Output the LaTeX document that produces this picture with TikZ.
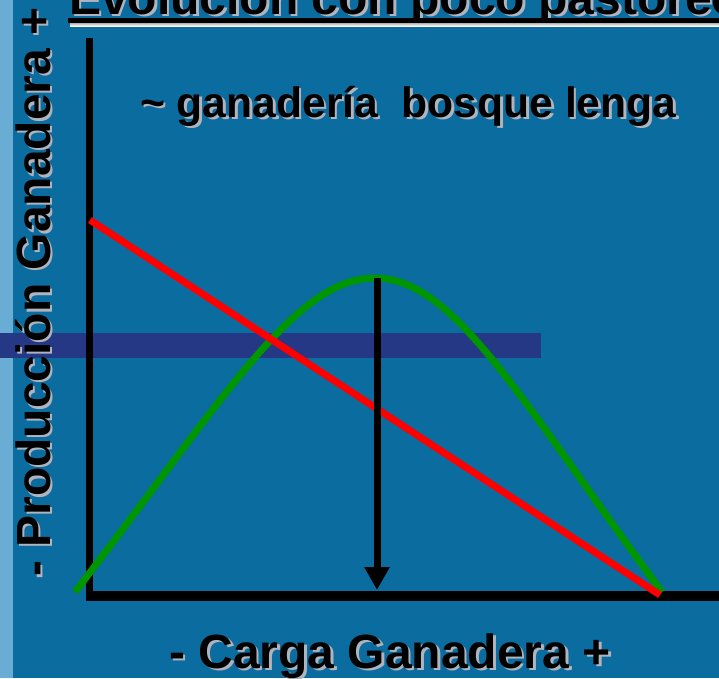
\documentclass[tikz,border=0pt]{standalone}
\usepackage{fontspec}
\setmainfont{Liberation Sans}
\usetikzlibrary{arrows.meta}
\definecolor{bgblue}{RGB}{11,108,160}
\definecolor{stripblue}{RGB}{105,172,212}
\definecolor{bandblue}{RGB}{36,56,134}
\definecolor{shade}{RGB}{175,180,190}
\definecolor{curvegreen}{RGB}{0,150,0}
\tikzset{
  big/.style={inner sep=0pt, font=\fontsize{48}{48}\selectfont\bfseries},
  mid/.style={inner sep=0pt, font=\fontsize{42.6}{42.6}\selectfont\bfseries},
  shadowtext/.style={text=shade},
  axisline/.style={line width=7pt, black},
  redline/.style={line width=7pt, red},
  greenline/.style={line width=7pt, curvegreen},
}
\begin{document}
\begin{tikzpicture}[x=1pt,y=-1pt]
\clip (0,0) rectangle (719,678);
\fill[bgblue] (0,0) rectangle (719,678);
\fill[stripblue] (0,0) rectangle (13,678);
\fill[bandblue] (0,333) rectangle (541,358);
% title
\node[big,shadowtext,anchor=base west] (titleS) at (71.5,16.5) {Evolución con poco pastoreo};
\node[big,anchor=base west] (title) at (69,14) {Evolución con poco pastoreo};
\fill[shade] (70,21) rectangle (719,26);
\fill[black] (68,18) rectangle (719,23);
% subtitle
\node[mid,shadowtext,anchor=base west] (subS) at (142.5,119.5) {\char"007E{} ganadería\ \ bosque lenga};
\node[mid,anchor=base west] (sub) at (140,117) {\char"007E{} ganadería\ \ bosque lenga};
% axis labels
\node[big,shadowtext,anchor=base] (xlabS) at (392.5,670.5) {- Carga Ganadera +};
\node[big,anchor=base] (xlab) at (390,668) {- Carga Ganadera +};
\node[big,shadowtext,anchor=base,rotate=90] (ylabS) at (52.5,294.5) {- Producción Ganadera +};
\node[big,anchor=base,rotate=90] (ylab) at (50,292) {- Producción Ganadera +};
% axes
\coordinate (ytop) at (89.5,38);
\coordinate (origin) at (89.5,601);
\coordinate (xleft) at (86,596);
\coordinate (xright) at (719,596);
\draw[axisline] (ytop) -- (origin);
\draw[line width=10pt] (xleft) -- (xright);
% green curve
\coordinate (gstart) at (75,592);
\coordinate (peak) at (375,278);
\coordinate (gend) at (662,592);
\draw[greenline] (gstart) .. controls (225,397) and (295,278) .. (peak)
  .. controls (455,278) and (522,403) .. (gend);
% red line
\coordinate (rstart) at (90,220);
\coordinate (rend) at (660,595);
\draw[redline] (rstart) -- (rend);
% arrow
\coordinate (atop) at (377,278);
\coordinate (afoot) at (377,590);
\draw[line width=7pt, -{Triangle[width=24pt,length=23pt]}] (atop) -- (afoot);
\end{tikzpicture}
\end{document}
